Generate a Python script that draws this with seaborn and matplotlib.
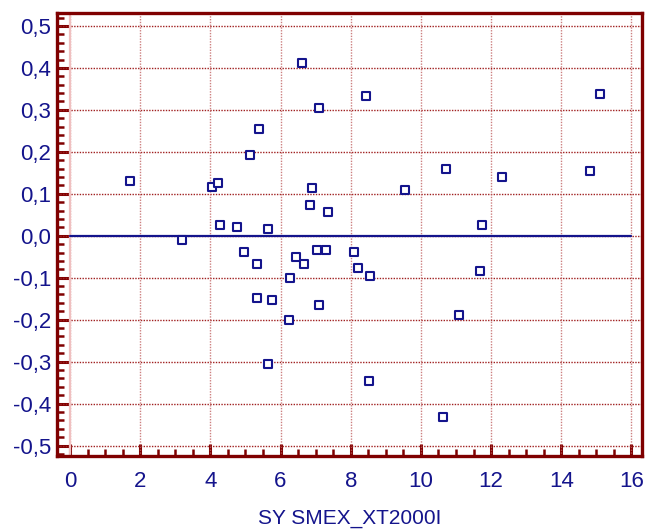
import matplotlib
matplotlib.use("Agg")
import matplotlib.pyplot as plt
from matplotlib.ticker import MultipleLocator, FuncFormatter
import seaborn as sns
import pandas as pd

# Measurements: instrument value vs. difference
sysmex = [1.70, 3.19, 4.04, 4.23, 4.27, 4.77, 4.95, 5.13, 5.38, 5.64,
          5.33, 5.33, 5.75, 5.64, 6.24, 6.27, 6.44, 6.67, 6.60, 6.85,
          6.90, 7.04, 7.10, 7.11, 7.29, 7.36, 8.08, 8.20, 8.43, 8.51,
          8.56, 9.56, 10.63, 10.72, 11.09, 11.68, 11.74, 12.30, 14.83, 15.09]
difference = [0.130, -0.011, 0.115, 0.126, 0.026, 0.020, -0.039, 0.192, 0.254, 0.015,
              -0.067, -0.148, -0.154, -0.305, -0.200, -0.100, -0.050, -0.067, 0.411, 0.074,
              0.113, -0.034, -0.166, 0.305, -0.034, 0.056, -0.039, -0.078, 0.332, -0.346,
              -0.096, 0.110, -0.433, 0.158, -0.189, -0.085, 0.026, 0.139, 0.154, 0.337]
x_label = "SY SMEX_XT2000I"
reference_level = 0.0

df = pd.DataFrame({"x": sysmex, "y": difference})

navy = "#14148c"
frame = "#7f0000"

sns.set_style("white")
plt.rcParams["font.family"] = ["Liberation Sans", "DejaVu Sans"]

fig = plt.figure(figsize=(6.46, 5.30), dpi=100)
ax = fig.add_axes([0.0882, 0.1396, 0.9056, 0.836])

ax.set_xlim(-0.37, 16.3)
ax.set_ylim(-0.525, 0.531)

# dotted grid: horizontal darker, vertical lighter
for v in [i * 0.1 for i in range(-5, 6)]:
    ax.axhline(round(v, 1), color="#a02020", lw=1.0, ls=(0, (1, 1)), zorder=1)
for v in range(0, 17, 2):
    ax.axvline(v, color="#c06060", lw=1.0, ls=(0, (1, 1)), alpha=0.8, zorder=1)
ax.axvline(0, color="#f0c0c0", lw=1.6, zorder=1)

# zero reference line
ax.plot([0, 16], [reference_level, reference_level], color=navy, lw=1.6, zorder=2)

sns.scatterplot(data=df, x="x", y="y", marker="s", s=27, facecolor="white",
                edgecolor=navy, linewidth=1.5, ax=ax, zorder=3)

ax.xaxis.set_major_locator(MultipleLocator(2))
ax.xaxis.set_minor_locator(MultipleLocator(0.5))
ax.yaxis.set_major_locator(MultipleLocator(0.1))
ax.yaxis.set_minor_locator(MultipleLocator(0.02))
ax.xaxis.set_major_formatter(FuncFormatter(lambda v, p: f"{v:.0f}"))
ax.yaxis.set_major_formatter(
    FuncFormatter(lambda v, p: f"{v:.1f}".replace(".", ",").replace("\u2212", "-")
                  if abs(v) > 1e-9 else "0,0"))

ax.tick_params(axis="both", which="major", direction="in", length=9, width=2.2,
               color=frame, labelsize=16, labelcolor=navy)
ax.tick_params(axis="both", which="minor", direction="in", length=5, width=1.8,
               color=frame)
ax.tick_params(axis="x", which="major", pad=11)
ax.tick_params(axis="y", which="major", pad=4)
ax.tick_params(which="both", left=True, bottom=True, top=False, right=False)

for side in ["left", "bottom", "right", "top"]:
    ax.spines[side].set_visible(True)
    ax.spines[side].set_color(frame)
    ax.spines[side].set_linewidth(2.4)

ax.set_xlabel(x_label, fontsize=15, color=navy, labelpad=12)
ax.set_ylabel("")

fig.savefig("out.png", dpi=100)
